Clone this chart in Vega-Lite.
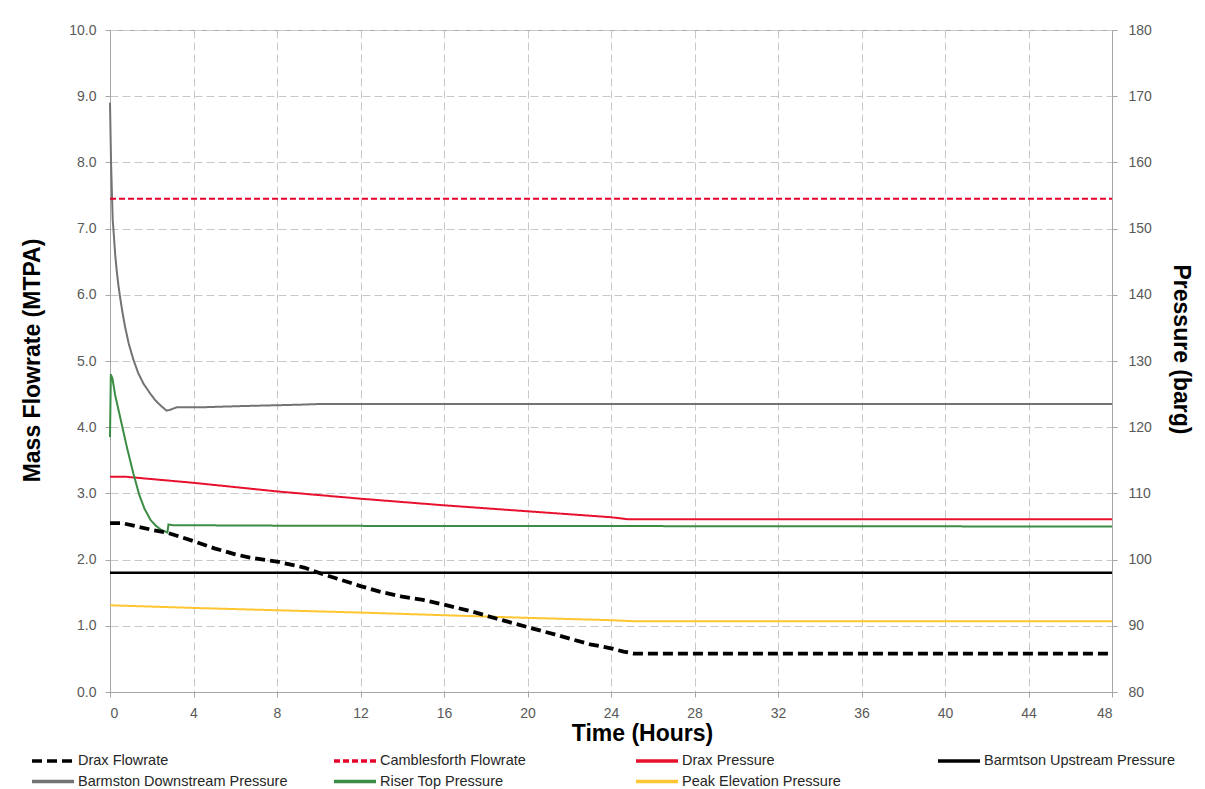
{
  "$schema": "https://vega.github.io/schema/vega-lite/v6.json",
  "width": 1002,
  "height": 662,
  "autosize": {"type": "none"},
  "padding": {"left": 110, "top": 30, "right": 93, "bottom": 97},
  "background": "white",
  "config": {
    "view": {"stroke": "#a6a6a6", "strokeWidth": 1},
    "font": "Liberation Sans",
    "axis": {
      "labelFont": "Liberation Sans",
      "labelFontSize": 14,
      "labelColor": "#595959",
      "titleFont": "Liberation Sans",
      "titleFontSize": 23,
      "titleFontWeight": "bold",
      "titleColor": "#000000",
      "domainColor": "#a6a6a6",
      "tickColor": "#a6a6a6",
      "gridColor": "#c8c8c8",
      "gridDash": [8, 4],
      "tickSize": 5
    },
    "legend": {
      "title": null, "orient": "none", "legendX": -66, "legendY": 722, "columns": 4, "direction": "horizontal",
      "symbolType": "M-3,0L3,0", "symbolSize": 196, "symbolStrokeWidth": 3.5,
      "labelFont": "Liberation Sans", "labelFontSize": 14.5, "labelColor": "#262626", "labelOffset": 16,
      "columnPadding": 39, "rowPadding": 4.5, "gridAlign": "all", "labelLimit": 300
    }
  },
  "datasets": {
    "flow": [
      {"series": "Drax Flowrate", "t": 0, "v": 2.55},
      {"series": "Drax Flowrate", "t": 0.6, "v": 2.55},
      {"series": "Drax Flowrate", "t": 1.3, "v": 2.5},
      {"series": "Drax Flowrate", "t": 2.0, "v": 2.45},
      {"series": "Drax Flowrate", "t": 2.7, "v": 2.41},
      {"series": "Drax Flowrate", "t": 3.3, "v": 2.35},
      {"series": "Drax Flowrate", "t": 4, "v": 2.28},
      {"series": "Drax Flowrate", "t": 5, "v": 2.17},
      {"series": "Drax Flowrate", "t": 6, "v": 2.08},
      {"series": "Drax Flowrate", "t": 6.7, "v": 2.03},
      {"series": "Drax Flowrate", "t": 8, "v": 1.97},
      {"series": "Drax Flowrate", "t": 9.3, "v": 1.88},
      {"series": "Drax Flowrate", "t": 10.1, "v": 1.79},
      {"series": "Drax Flowrate", "t": 11, "v": 1.7},
      {"series": "Drax Flowrate", "t": 12, "v": 1.6},
      {"series": "Drax Flowrate", "t": 13, "v": 1.51},
      {"series": "Drax Flowrate", "t": 14, "v": 1.44},
      {"series": "Drax Flowrate", "t": 15, "v": 1.39},
      {"series": "Drax Flowrate", "t": 16, "v": 1.32},
      {"series": "Drax Flowrate", "t": 17.3, "v": 1.22},
      {"series": "Drax Flowrate", "t": 18.5, "v": 1.11},
      {"series": "Drax Flowrate", "t": 20, "v": 0.98},
      {"series": "Drax Flowrate", "t": 21.3, "v": 0.87},
      {"series": "Drax Flowrate", "t": 22.2, "v": 0.79},
      {"series": "Drax Flowrate", "t": 23, "v": 0.72},
      {"series": "Drax Flowrate", "t": 24, "v": 0.66},
      {"series": "Drax Flowrate", "t": 24.6, "v": 0.61},
      {"series": "Drax Flowrate", "t": 25.1, "v": 0.58},
      {"series": "Drax Flowrate", "t": 48, "v": 0.58},
      {"series": "Camblesforth Flowrate", "t": 0, "v": 7.45},
      {"series": "Camblesforth Flowrate", "t": 48, "v": 7.45}
    ],
    "pressure": [
      {"series": "Drax Pressure", "t": 0, "p": 112.5},
      {"series": "Drax Pressure", "t": 0.8, "p": 112.5},
      {"series": "Drax Pressure", "t": 4, "p": 111.6},
      {"series": "Drax Pressure", "t": 8, "p": 110.3},
      {"series": "Drax Pressure", "t": 12, "p": 109.2},
      {"series": "Drax Pressure", "t": 16, "p": 108.2},
      {"series": "Drax Pressure", "t": 20, "p": 107.3},
      {"series": "Drax Pressure", "t": 24, "p": 106.4},
      {"series": "Drax Pressure", "t": 24.8, "p": 106.1},
      {"series": "Drax Pressure", "t": 48, "p": 106.1},
      {"series": "Barmtson Upstream Pressure", "t": 0, "p": 98},
      {"series": "Barmtson Upstream Pressure", "t": 48, "p": 98},
      {"series": "Barmston Downstream Pressure", "t": 0, "p": 169},
      {"series": "Barmston Downstream Pressure", "t": 0.05, "p": 160},
      {"series": "Barmston Downstream Pressure", "t": 0.13, "p": 151.3},
      {"series": "Barmston Downstream Pressure", "t": 0.19, "p": 148.8},
      {"series": "Barmston Downstream Pressure", "t": 0.25, "p": 146.0},
      {"series": "Barmston Downstream Pressure", "t": 0.32, "p": 143.7},
      {"series": "Barmston Downstream Pressure", "t": 0.4, "p": 141.5},
      {"series": "Barmston Downstream Pressure", "t": 0.48, "p": 139.7},
      {"series": "Barmston Downstream Pressure", "t": 0.6, "p": 137.3},
      {"series": "Barmston Downstream Pressure", "t": 0.72, "p": 135.2},
      {"series": "Barmston Downstream Pressure", "t": 0.9, "p": 132.6},
      {"series": "Barmston Downstream Pressure", "t": 1.12, "p": 130.2},
      {"series": "Barmston Downstream Pressure", "t": 1.35, "p": 128.2},
      {"series": "Barmston Downstream Pressure", "t": 1.6, "p": 126.6},
      {"series": "Barmston Downstream Pressure", "t": 1.9, "p": 125.2},
      {"series": "Barmston Downstream Pressure", "t": 2.16, "p": 124.1},
      {"series": "Barmston Downstream Pressure", "t": 2.45, "p": 123.2},
      {"series": "Barmston Downstream Pressure", "t": 2.71, "p": 122.5},
      {"series": "Barmston Downstream Pressure", "t": 2.85, "p": 122.6},
      {"series": "Barmston Downstream Pressure", "t": 3.19, "p": 123.0},
      {"series": "Barmston Downstream Pressure", "t": 4.3, "p": 123.0},
      {"series": "Barmston Downstream Pressure", "t": 6.4, "p": 123.2},
      {"series": "Barmston Downstream Pressure", "t": 9.1, "p": 123.4},
      {"series": "Barmston Downstream Pressure", "t": 10, "p": 123.5},
      {"series": "Barmston Downstream Pressure", "t": 48, "p": 123.5},
      {"series": "Riser Top Pressure", "t": 0, "p": 118.5},
      {"series": "Riser Top Pressure", "t": 0.04, "p": 128},
      {"series": "Riser Top Pressure", "t": 0.12, "p": 127.3},
      {"series": "Riser Top Pressure", "t": 0.25, "p": 124.8},
      {"series": "Riser Top Pressure", "t": 0.48, "p": 121.6},
      {"series": "Riser Top Pressure", "t": 0.8, "p": 117.1},
      {"series": "Riser Top Pressure", "t": 1.12, "p": 113.0},
      {"series": "Riser Top Pressure", "t": 1.4, "p": 109.8},
      {"series": "Riser Top Pressure", "t": 1.65, "p": 107.7},
      {"series": "Riser Top Pressure", "t": 1.94, "p": 106.0},
      {"series": "Riser Top Pressure", "t": 2.2, "p": 105.1},
      {"series": "Riser Top Pressure", "t": 2.45, "p": 104.5},
      {"series": "Riser Top Pressure", "t": 2.75, "p": 104.1},
      {"series": "Riser Top Pressure", "t": 2.8, "p": 105.3},
      {"series": "Riser Top Pressure", "t": 3, "p": 105.2},
      {"series": "Riser Top Pressure", "t": 10, "p": 105.1},
      {"series": "Riser Top Pressure", "t": 48, "p": 105.0},
      {"series": "Peak Elevation Pressure", "t": 0, "p": 93.1},
      {"series": "Peak Elevation Pressure", "t": 4, "p": 92.7},
      {"series": "Peak Elevation Pressure", "t": 8, "p": 92.35},
      {"series": "Peak Elevation Pressure", "t": 12, "p": 92.0},
      {"series": "Peak Elevation Pressure", "t": 16, "p": 91.6},
      {"series": "Peak Elevation Pressure", "t": 20, "p": 91.2},
      {"series": "Peak Elevation Pressure", "t": 24, "p": 90.85},
      {"series": "Peak Elevation Pressure", "t": 25, "p": 90.7},
      {"series": "Peak Elevation Pressure", "t": 48, "p": 90.7}
    ]
  },
  "layer": [
    {
      "data": {"name": "pressure"},
      "mark": {"type": "line"},
      "encoding": {
        "x": {
          "field": "t", "type": "quantitative",
          "scale": {"domain": [0, 48], "nice": false, "zero": false},
          "axis": {
            "values": [0, 4, 8, 12, 16, 20, 24, 28, 32, 36, 40, 44, 48],
            "grid": true, "title": "Time (Hours)", "labelPadding": 9,
            "titleX": 532, "titleY": 48, "titleBaseline": "alphabetic", "titleAlign": "center"
          }
        },
        "y": {
          "field": "p", "type": "quantitative",
          "scale": {"domain": [80, 180], "nice": false, "zero": false},
          "axis": {
            "orient": "right", "values": [80, 90, 100, 110, 120, 130, 140, 150, 160, 170, 180],
            "grid": false, "title": "Pressure (barg)", "labelPadding": 11,
            "titleAngle": 90, "titleX": 68, "titleY": 319, "titleAlign": "center", "titleBaseline": "middle"
          }
        },
        "color": {
          "field": "series", "type": "nominal",
          "scale": {
            "domain": ["Drax Flowrate", "Camblesforth Flowrate", "Drax Pressure", "Barmtson Upstream Pressure", "Barmston Downstream Pressure", "Riser Top Pressure", "Peak Elevation Pressure"],
            "range": ["#000000", "#e8002a", "#e8112d", "#000000", "#737373", "#3b8d45", "#ffc631"]
          }
        },
        "strokeDash": {
          "field": "series", "type": "nominal",
          "scale": {
            "domain": ["Drax Flowrate", "Camblesforth Flowrate", "Drax Pressure", "Barmtson Upstream Pressure", "Barmston Downstream Pressure", "Riser Top Pressure", "Peak Elevation Pressure"],
            "range": [[10, 5], [6, 3], [1, 0], [1, 0], [1, 0], [1, 0], [1, 0]]
          }
        },
        "strokeWidth": {"condition": {"test": "datum.series === 'Barmtson Upstream Pressure'", "value": 2.5}, "value": 2}
      }
    },
    {
      "data": {"name": "flow"},
      "mark": {"type": "line"},
      "encoding": {
        "x": {
          "field": "t", "type": "quantitative",
          "scale": {"domain": [0, 48], "nice": false, "zero": false},
          "axis": {
            "values": [0, 4, 8, 12, 16, 20, 24, 28, 32, 36, 40, 44, 48],
            "grid": true, "title": "Time (Hours)", "labelPadding": 9,
            "titleX": 532, "titleY": 48, "titleBaseline": "alphabetic", "titleAlign": "center"
          }
        },
        "y": {
          "field": "v", "type": "quantitative",
          "scale": {"domain": [0, 10], "nice": false, "zero": false},
          "axis": {
            "orient": "left", "values": [0, 1, 2, 3, 4, 5, 6, 7, 8, 9, 10], "format": ".1f",
            "grid": true, "title": "Mass Flowrate (MTPA)", "labelPadding": 9,
            "titleAngle": -90, "titleX": -78, "titleY": 330, "titleAlign": "center", "titleBaseline": "middle"
          }
        },
        "color": {
          "field": "series", "type": "nominal",
          "scale": {
            "domain": ["Drax Flowrate", "Camblesforth Flowrate", "Drax Pressure", "Barmtson Upstream Pressure", "Barmston Downstream Pressure", "Riser Top Pressure", "Peak Elevation Pressure"],
            "range": ["#000000", "#e8002a", "#e8112d", "#000000", "#737373", "#3b8d45", "#ffc631"]
          }
        },
        "strokeDash": {
          "field": "series", "type": "nominal",
          "scale": {
            "domain": ["Drax Flowrate", "Camblesforth Flowrate", "Drax Pressure", "Barmtson Upstream Pressure", "Barmston Downstream Pressure", "Riser Top Pressure", "Peak Elevation Pressure"],
            "range": [[10, 5], [6, 3], [1, 0], [1, 0], [1, 0], [1, 0], [1, 0]]
          }
        },
        "strokeWidth": {"condition": {"test": "datum.series === 'Drax Flowrate'", "value": 3.8}, "value": 2}
      }
    }
  ],
  "resolve": {"scale": {"y": "independent"}}
}
